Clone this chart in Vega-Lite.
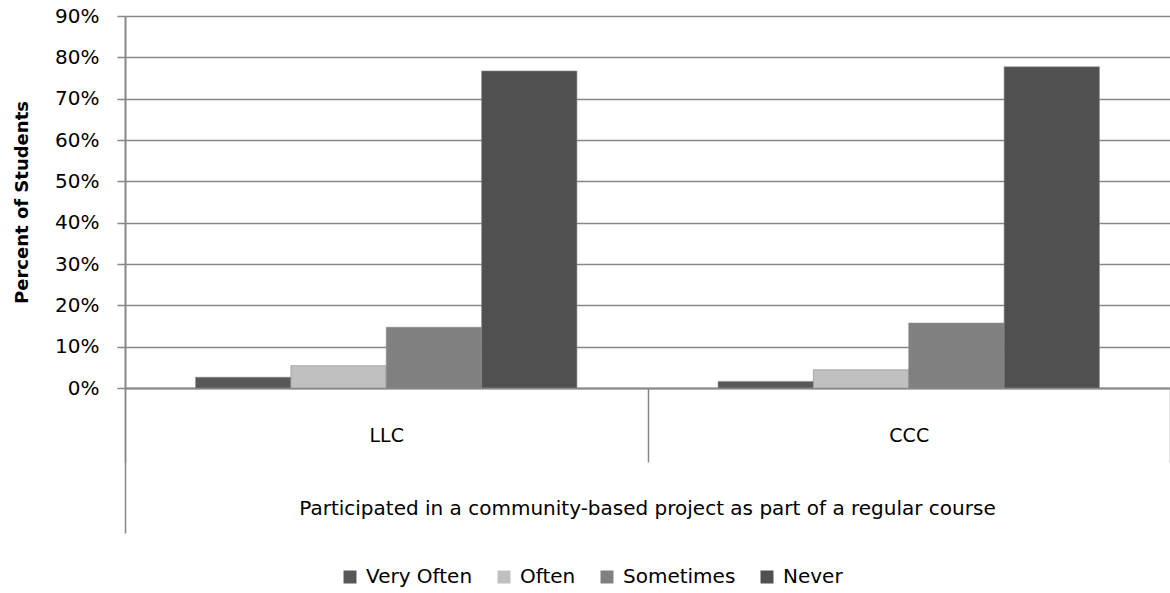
{
  "$schema": "https://vega.github.io/schema/vega-lite/v6.json",
  "autosize": "none",
  "width": 1045,
  "height": 372,
  "padding": {"left": 125, "top": 16, "right": 0, "bottom": 205},
  "background": "white",
  "config": {
    "font": "DejaVu Sans",
    "view": {"stroke": null},
    "axis": {"labelColor": "#000", "titleColor": "#000", "labelFont": "DejaVu Sans", "titleFont": "DejaVu Sans"},
    "legend": {"labelFont": "DejaVu Sans"}
  },
  "data": {
    "values": [
      {"group": "LLC", "response": "Very Often", "value": 0.026},
      {"group": "LLC", "response": "Often", "value": 0.054},
      {"group": "LLC", "response": "Sometimes", "value": 0.147},
      {"group": "LLC", "response": "Never", "value": 0.767},
      {"group": "CCC", "response": "Very Often", "value": 0.016},
      {"group": "CCC", "response": "Often", "value": 0.044},
      {"group": "CCC", "response": "Sometimes", "value": 0.157},
      {"group": "CCC", "response": "Never", "value": 0.777}
    ]
  },
  "layer": [
    {
      "mark": {"type": "bar", "opacity": 0},
      "encoding": {
        "x": {
          "field": "group",
          "type": "nominal",
          "sort": ["LLC", "CCC"],
          "axis": {
            "orient": "bottom",
            "values": ["LLC"],
            "bandPosition": 0,
            "tickSize": 145,
            "tickColor": "#878787",
            "tickWidth": 1.5,
            "domain": false,
            "labels": false,
            "grid": false,
            "title": null,
            "offset": 0
          }
        },
        "y": {"field": "value", "type": "quantitative"}
      }
    },
    {
      "mark": {"type": "bar", "stroke": "#8a8a8a", "strokeWidth": 0.6},
      "encoding": {
        "x": {
          "field": "group",
          "type": "nominal",
          "sort": ["LLC", "CCC"],
          "scale": {"paddingInner": 0, "paddingOuter": 0},
          "axis": {
            "orient": "bottom",
            "tickBand": "extent",
            "tickSize": 74,
            "tickColor": "#878787",
            "tickWidth": 1.5,
            "domainColor": "#878787",
            "domainWidth": 2,
            "labelAngle": 0,
            "labelFontSize": 19,
            "labelPadding": -27,
            "labelBaseline": "middle",
            "title": "Participated in a community-based  project as part of a regular course",
            "titleFontSize": 20,
            "titleFontWeight": "normal",
            "titleX": 522,
            "titleY": 120,
            "titleAnchor": null,
            "titleAlign": "center",
            "titleBaseline": "middle"
          }
        },
        "xOffset": {
          "field": "response",
          "type": "nominal",
          "sort": ["Very Often", "Often", "Sometimes", "Never"],
          "scale": {"paddingInner": 0, "paddingOuter": 0.74}
        },
        "y": {
          "field": "value",
          "type": "quantitative",
          "scale": {"domain": [0, 0.9]},
          "axis": {
            "format": ".0%",
            "values": [0, 0.1, 0.2, 0.3, 0.4, 0.5, 0.6, 0.7, 0.8, 0.9],
            "tickSize": 8,
            "tickColor": "#878787",
            "tickWidth": 1.5,
            "gridColor": "#878787",
            "gridWidth": 1.5,
            "domainColor": "#878787",
            "domainWidth": 2,
            "labelFontSize": 20,
            "labelPadding": 18,
            "title": "Percent of Students",
            "titleFontSize": 18,
            "titleFontWeight": "bold",
            "titleAngle": -90,
            "titleX": -103,
            "titleY": 186,
            "titleAlign": "center",
            "titleBaseline": "middle"
          }
        },
        "color": {
          "field": "response",
          "type": "nominal",
          "sort": ["Very Often", "Often", "Sometimes", "Never"],
          "scale": {
            "domain": ["Very Often", "Often", "Sometimes", "Never"],
            "range": ["#585858", "#c0c0c0", "#808080", "#505050"]
          },
          "legend": {
            "title": null,
            "orient": "none",
            "direction": "horizontal",
            "legendX": 215,
            "legendY": 551,
            "padding": 0,
            "symbolType": "square",
            "symbolSize": 169,
            "symbolStrokeWidth": 0,
            "labelFontSize": 20,
            "labelColor": "#000",
            "labelOffset": 6,
            "columnPadding": 21
          }
        }
      }
    }
  ],
  "resolve": {"axis": {"x": "independent"}}
}
